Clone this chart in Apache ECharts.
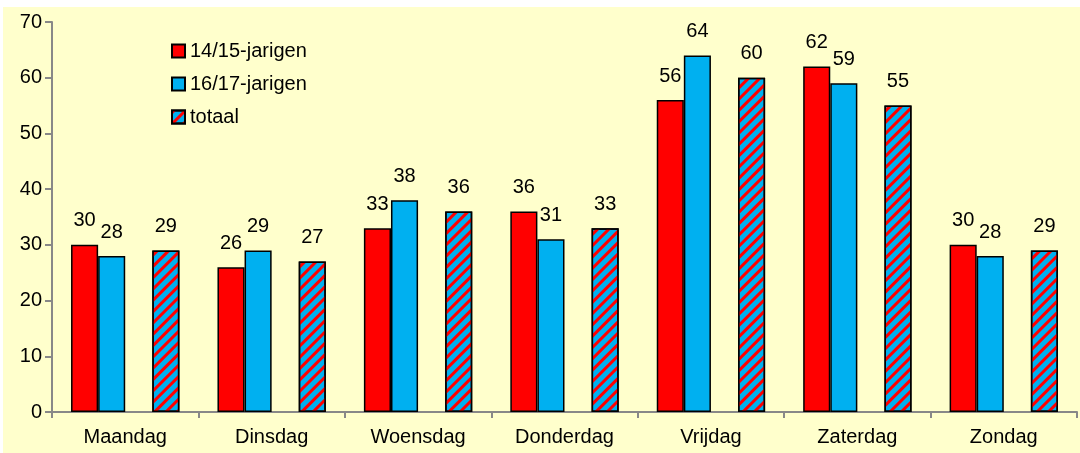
<!DOCTYPE html>
<html>
<head>
<meta charset="utf-8">
<script src="https://cdn.jsdelivr.net/npm/echarts@6/dist/echarts.min.js"></script>
<style>
  html, body { margin: 0; padding: 0; background: #ffffff; }
  #chart { position: absolute; left: 3px; top: 7px; width: 1077px; height: 446px; background: #FFFFCC; }
</style>
</head>
<body>
<div id="chart"></div>
<script>
var days = ['Maandag', 'Dinsdag', 'Woensdag', 'Donderdag', 'Vrijdag', 'Zaterdag', 'Zondag'];
var jong = [30, 26, 33, 36, 56, 62, 30];   // 14/15-jarigen
var oud = [28, 29, 38, 31, 64, 59, 28];    // 16/17-jarigen
var totaal = [29, 27, 36, 33, 60, 55, 29];
var yTicks = [0, 10, 20, 30, 40, 50, 60, 70];

var fontFam = 'Arial, "Liberation Sans", sans-serif';
var chart = echarts.init(document.getElementById('chart'));

var lbl = {
  show: true, position: 'top', distance: 14,
  color: '#000', fontSize: 20, fontFamily: fontFam
};
var border = { borderColor: '#000', borderWidth: 1.5 };

chart.setOption({
  backgroundColor: '#FFFFCC',
  animation: false,
  grid: { left: 49, right: 3, top: 15, bottom: 41 },
  legend: {
    data: ['14/15-jarigen', '16/17-jarigen', 'totaal'],
    orient: 'vertical',
    left: 163, top: 29,
    icon: 'rect',
    itemWidth: 13, itemHeight: 13, itemGap: 13,
    textStyle: { color: '#000', fontSize: 20, fontFamily: fontFam }
  },
  xAxis: {
    type: 'category',
    data: days,
    axisLine: { lineStyle: { color: '#888', width: 2 } },
    axisTick: { show: true, length: 6, lineStyle: { color: '#888', width: 2 } },
    axisLabel: { color: '#000', fontSize: 20, fontFamily: fontFam, margin: 15 }
  },
  yAxis: {
    type: 'value',
    min: yTicks[0], max: yTicks[yTicks.length - 1], interval: 10,
    splitLine: { show: false },
    axisLine: { show: true, lineStyle: { color: '#888', width: 2 } },
    axisTick: { show: true, length: 7, lineStyle: { color: '#888', width: 2 } },
    axisLabel: { color: '#000', fontSize: 20, fontFamily: fontFam, margin: 10 }
  },
  series: [
    { name: '14/15-jarigen', type: 'bar', data: jong, barGap: 0, barCategoryGap: '26%',
      itemStyle: Object.assign({ color: '#FF0000' }, border), label: lbl },
    { name: '16/17-jarigen', type: 'bar', data: oud,
      itemStyle: Object.assign({ color: '#00B0F0' }, border), label: lbl },
    { name: 'leeg', type: 'bar', data: days.map(function () { return null; }) },
    { name: 'totaal', type: 'bar', data: totaal,
      itemStyle: Object.assign({
        color: '#00B0F0',
        decal: {
          symbol: 'rect', color: '#FF0000',
          dashArrayX: [1, 0], dashArrayY: [3, 5],
          rotation: -Math.PI / 4
        }
      }, border),
      label: lbl }
  ]
});
</script>
</body>
</html>
